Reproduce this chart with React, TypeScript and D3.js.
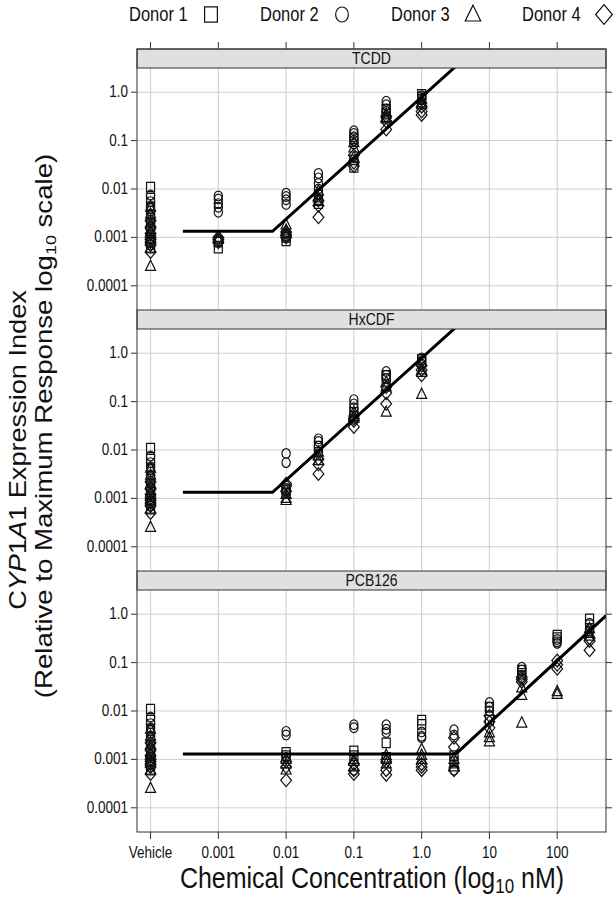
import * as d3 from 'd3';

const donors = ['Donor 1', 'Donor 2', 'Donor 3', 'Donor 4'];
const chemicals = ['TCDD', 'HxCDF', 'PCB126'];
const xTickValues = [0.0001, 0.001, 0.01, 0.1, 1, 10, 100];
const xTickLabels = ['Vehicle', '0.001', '0.01', '0.1', '1.0', '10', '100'];
const yTickValues = [1, 0.1, 0.01, 0.001, 0.0001];
const yTickLabels = ['1.0', '0.1', '0.01', '0.001', '0.0001'];
// vehicle samples are drawn at the 1e-4 slot
const vehiclePos = 0.0001;

// per donor (1..4)
const vehicle = [
  [0.011, 0.0065, 0.004, 0.0025, 0.0015, 0.0011, 0.0008, 0.0006],
  [0.0075, 0.0055, 0.0045, 0.0035, 0.003, 0.002, 0.0015, 0.0012, 0.0009, 0.0007],
  [0.00025, 0.0006, 0.0009, 0.0013, 0.002, 0.003, 0.0042, 0.0018],
  [0.0005, 0.0007, 0.0009, 0.001, 0.0012, 0.0016, 0.0022, 0.0008],
];

const tcdd = [
  { conc: 0.001, values: [[0.0006, 0.0008, 0.00085], [0.0072, 0.0062, 0.005, 0.0042, 0.0033], [0.001, 0.0009], [0.0009, 0.001, 0.0008]] },
  { conc: 0.01, values: [[0.0011, 0.00085, 0.001], [0.0082, 0.007, 0.006, 0.0048, 0.0012], [0.0018, 0.0014, 0.0012], [0.0011, 0.0013, 0.001]] },
  { conc: 0.03, values: [[0.006, 0.0075, 0.005], [0.021, 0.017, 0.013, 0.01, 0.008], [0.0055, 0.0065, 0.009], [0.0026, 0.0045, 0.0058]] },
  { conc: 0.1, values: [[0.028, 0.04, 0.11], [0.16, 0.14, 0.12, 0.1, 0.085], [0.09, 0.07, 0.045], [0.035, 0.03, 0.05]] },
  { conc: 0.3, values: [[0.45, 0.35, 0.3], [0.65, 0.55, 0.45, 0.4], [0.35, 0.3, 0.28], [0.17, 0.25, 0.32]] },
  { conc: 1, values: [[0.9, 0.8, 0.7], [0.85, 0.75, 0.6], [0.7, 0.6, 0.55], [0.34, 0.4, 0.5]] },
];

const hxcdf = [
  { conc: 0.01, values: [[0.0015, 0.0013], [0.0085, 0.0055, 0.0016], [0.0009, 0.001, 0.0012], [0.0018, 0.0014, 0.002]] },
  { conc: 0.03, values: [[0.012, 0.009], [0.017, 0.015, 0.012], [0.006, 0.0075, 0.009], [0.0032, 0.005, 0.0065]] },
  { conc: 0.1, values: [[0.06, 0.05], [0.11, 0.09, 0.075], [0.06, 0.05, 0.045], [0.03, 0.045, 0.04]] },
  { conc: 0.3, values: [[0.35, 0.3], [0.42, 0.35, 0.3], [0.06, 0.25, 0.2], [0.09, 0.15, 0.2]] },
  { conc: 1, values: [[0.75, 0.65], [0.8, 0.7, 0.6], [0.14, 0.45, 0.4], [0.35, 0.45, 0.55]] },
];

const pcb126 = [
  { conc: 0.01, values: [[0.0014, 0.0012], [0.0038, 0.0032, 0.0011], [0.0006, 0.0008, 0.001], [0.00037, 0.0007, 0.0009]] },
  { conc: 0.1, values: [[0.0015, 0.0012], [0.0052, 0.0045, 0.0006], [0.0007, 0.001, 0.0009], [0.0005, 0.0006, 0.0008]] },
  { conc: 0.3, values: [[0.0022, 0.0011], [0.0052, 0.0042, 0.0036], [0.0012, 0.001, 0.0008], [0.00048, 0.0006, 0.0009]] },
  { conc: 1, values: [[0.0065, 0.0053], [0.0037, 0.003, 0.0028], [0.0016, 0.001, 0.0012], [0.0006, 0.0007, 0.0008]] },
  { conc: 3, values: [[0.0012, 0.0009], [0.0041, 0.0032, 0.0006], [0.001, 0.0008, 0.0007], [0.0028, 0.0018, 0.0006]] },
  { conc: 10, values: [[0.012, 0.0065], [0.015, 0.012, 0.01], [0.0023, 0.0028, 0.0035], [0.006, 0.0045, 0.008]] },
  { conc: 30, values: [[0.07, 0.06], [0.08, 0.07, 0.055], [0.0056, 0.021, 0.03], [0.04, 0.045, 0.05]] },
  { conc: 100, values: [[0.37, 0.33], [0.3, 0.27, 0.25], [0.025, 0.022], [0.11, 0.09, 0.075]] },
  { conc: 300, values: [[0.8, 0.6], [0.65, 0.5, 0.45], [0.4, 0.35, 0.5], [0.18, 0.28, 0.32]] },
];

const panelData = [tcdd, hxcdf, pcb126];

// hockey-stick fit: flat baseline until the break, then log-log slope
const fitStart = 0.0003;
const fitBaseline = [0.00134, 0.00134, 0.0013];
const fitBreak = [0.0063, 0.0063, 3.2];
const fitSlope = [1.26, 1.26, 1.29];

const W = 616;
const H = 900;
const left = 137;
const right = 606;
const top = 49;
const stripH = 19;
const plotH = 242;
const font = '"Liberation Sans", Arial, Helvetica, sans-serif';
const gridColor = '#cfcfcf';
const ink = '#111';
// the original figure is a little taller than wide
const sy = 1.18;

const x = d3.scaleLog().domain([Math.pow(10, -4.2), Math.pow(10, 2.72)]).range([left, right]);

const shapePath = (i: number, k: number) => {
  if (i === 0) {
    const s = 4 * k;
    return `M${-s},${-s * sy}h${2 * s}v${2 * s * sy}h${-2 * s}Z`;
  }
  if (i === 1) {
    const r = 4.1 * k;
    const ry = r * sy;
    return `M${r},0A${r},${ry} 0 1,1 ${-r},0A${r},${ry} 0 1,1 ${r},0Z`;
  }
  if (i === 2) {
    const w = 10 * k;
    const h = w * 0.866 * sy;
    return `M0,${-h * 0.62}L${w / 2},${h * 0.38}L${-w / 2},${h * 0.38}Z`;
  }
  const d = 5.4 * k;
  return `M0,${-d * sy}L${d},0L0,${d * sy}L${-d},0Z`;
};

const Label = ({ x0, y0, size, anchor, children }: any) => (
  <text
    transform={`translate(${x0},${y0}) scale(1,${sy})`}
    textAnchor={anchor}
    fontSize={size}
    fill="#111"
  >
    {children}
  </text>
);

const Panel = ({ idx }: { idx: number }) => {
  const stripTop = top + idx * (stripH + plotH);
  const plotTop = stripTop + stripH;
  const plotBottom = plotTop + plotH;
  const y = d3.scaleLog().domain([Math.pow(10, -4.5), Math.pow(10, 0.5)]).range([plotBottom, plotTop]);

  const pts: { cx: number; cy: number; d: number }[] = [];
  vehicle.forEach((vals, d) => vals.forEach((v) => pts.push({ cx: x(vehiclePos), cy: y(v), d })));
  panelData[idx].forEach((g) =>
    g.values.forEach((vals, d) => vals.forEach((v) => pts.push({ cx: x(g.conc), cy: y(v), d })))
  );

  const xEnd = x.domain()[1];
  const base = fitBaseline[idx];
  const brk = fitBreak[idx];
  const fit: [number, number][] = [
    [fitStart, base],
    [brk, base],
    [xEnd, base * Math.pow(xEnd / brk, fitSlope[idx])],
  ];
  const line = d3
    .line<[number, number]>()
    .x((d) => x(d[0]))
    .y((d) => y(d[1]));
  const clipId = `clip-${idx}`;

  return (
    <g>
      <defs>
        <clipPath id={clipId}>
          <rect x={left} y={plotTop} width={right - left} height={plotH} />
        </clipPath>
      </defs>
      {xTickValues.map((t) => (
        <line key={'gx' + t} x1={x(t)} x2={x(t)} y1={plotTop} y2={plotBottom} stroke={gridColor} />
      ))}
      {yTickValues.map((t) => (
        <line key={'gy' + t} x1={left} x2={right} y1={y(t)} y2={y(t)} stroke={gridColor} />
      ))}
      <g clipPath={`url(#${clipId})`}>
        {pts.map((p, i) => (
          <path
            key={i}
            d={shapePath(p.d, 1)}
            transform={`translate(${p.cx},${p.cy})`}
            fill="none"
            stroke={ink}
            strokeWidth={1.2}
          />
        ))}
        <path d={line(fit) || ''} fill="none" stroke="#000" strokeWidth={3} />
      </g>
      <rect x={left} y={stripTop} width={right - left} height={stripH} fill="#e0e0e0" stroke="#333" />
      <Label x0={(left + right) / 2} y0={stripTop + 15} size={14} anchor="middle">
        {chemicals[idx]}
      </Label>
      {yTickValues.map((t, i) => (
        <g key={'ty' + t}>
          <line x1={left - 6} x2={left} y1={y(t)} y2={y(t)} stroke="#333" />
          <line x1={right} x2={right + 6} y1={y(t)} y2={y(t)} stroke="#333" />
          <Label x0={left - 9} y0={y(t) + 5} size={13.5} anchor="end">
            {yTickLabels[i]}
          </Label>
        </g>
      ))}
    </g>
  );
};

const App = () => {
  const bottom = top + 3 * (stripH + plotH);
  return (
    <svg width={W} height={H} style={{ position: 'absolute', left: 0, top: 0, fontFamily: font, background: '#fff' }}>
      <rect width={W} height={H} fill="#fff" />
      {donors.map((name, i) => {
        const lx = 129 + i * 131;
        return (
          <g key={name}>
            <Label x0={lx} y0={21} size={16.5} anchor="start">
              {name}
            </Label>
            <path
              d={shapePath(i, i === 0 ? 1.6 : 1.55)}
              transform={`translate(${lx + 82},${i === 2 ? 15 : 14.5})`}
              fill="none"
              stroke={ink}
              strokeWidth={1.2}
            />
          </g>
        );
      })}
      {[0, 1, 2].map((i) => (
        <Panel key={i} idx={i} />
      ))}
      <rect x={left} y={top} width={right - left} height={bottom - top} fill="none" stroke="#333" />
      {xTickValues.map((t, i) => (
        <g key={'tx' + t}>
          <line x1={x(t)} x2={x(t)} y1={top - 7} y2={top} stroke="#333" />
          <line x1={x(t)} x2={x(t)} y1={bottom} y2={bottom + 7} stroke="#333" />
          <Label x0={x(t)} y0={bottom + 26} size={13.5} anchor="middle">
            {xTickLabels[i]}
          </Label>
        </g>
      ))}
      <Label x0={372} y0={888} size={25} anchor="middle">
        Chemical Concentration (log
        <tspan fontSize={17} dy={4}>
          10
        </tspan>
        <tspan dy={-4}> nM)</tspan>
      </Label>
      <g transform={`translate(26,450) rotate(-90) scale(${sy},1)`}>
        <text x={0} y={0} textAnchor="middle" fontSize={23} fill="#111">
          C<tspan fontStyle="italic">YP</tspan>1<tspan fontStyle="italic">A</tspan>1 Expression Index
        </text>
      </g>
      <g transform={`translate(52,426) rotate(-90) scale(1.2,1)`}>
        <text x={0} y={0} textAnchor="middle" fontSize={23} fill="#111">
          (Relative to Maximum Response  log
          <tspan fontSize={15} dy={4}>
            10
          </tspan>
          <tspan dy={-4}> scale)</tspan>
        </text>
      </g>
    </svg>
  );
};

export default App;
